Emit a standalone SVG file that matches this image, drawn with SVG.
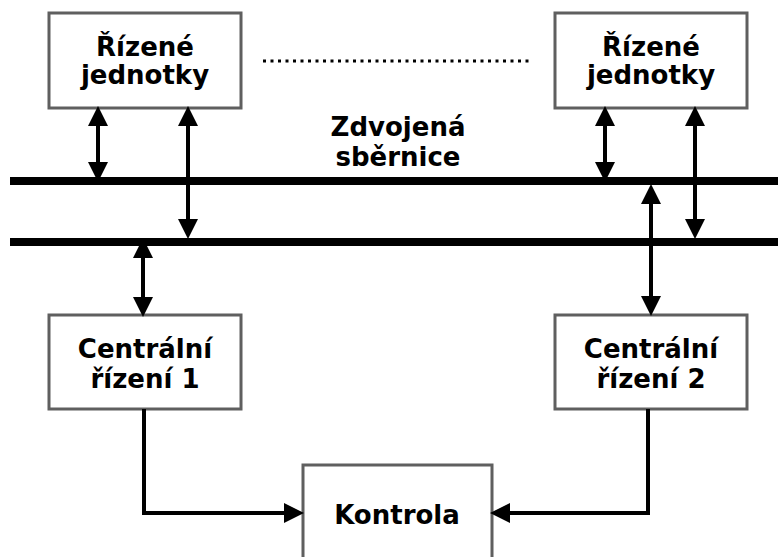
<svg xmlns="http://www.w3.org/2000/svg" width="778" height="557" viewBox="0 0 778 557">
<style>
.box{fill:#fff;stroke:#5f5f5f;stroke-width:3}
.t{font-family:"DejaVu Sans","Verdana",sans-serif;font-weight:bold;font-size:26px;fill:#000;text-anchor:middle}
.bus{stroke:#000;stroke-width:8}
.ln{stroke:#000;stroke-width:4;fill:none}
</style>
<defs>
<marker id="ah" markerUnits="userSpaceOnUse" markerWidth="20" markerHeight="20" viewBox="0 0 20 20" refX="1" refY="10" orient="auto-start-reverse">
<path d="M0,0 L20,10 L0,20 z" fill="#000"/>
</marker>
</defs>
<rect width="778" height="557" fill="#fff"/>
<g id="bus">
<line class="bus" x1="10" y1="181" x2="778" y2="181"/>
<line class="bus" x1="10" y1="242" x2="778" y2="242"/>
<text class="t" x="398" y="136">Zdvojená</text>
<text class="t" x="398" y="166">sběrnice</text>
</g>
<g id="ru1">
<rect class="box" x="49" y="13" width="192" height="95"/>
<text class="t" x="145" y="56">Řízené</text>
<text class="t" x="145" y="84">jednotky</text>
</g>
<g id="ru2">
<rect class="box" x="555" y="13" width="192" height="95"/>
<text class="t" x="651" y="56">Řízené</text>
<text class="t" x="651" y="84">jednotky</text>
</g>
<g id="dots">
<line x1="263" y1="61" x2="533" y2="61" stroke="#000" stroke-width="3" stroke-dasharray="3 4.5"/>
</g>
<g id="cr1">
<rect class="box" x="49" y="315" width="192" height="94"/>
<text class="t" x="145" y="358">Centrální</text>
<text class="t" x="145" y="388">řízení 1</text>
</g>
<g id="cr2">
<rect class="box" x="555" y="315" width="192" height="94"/>
<text class="t" x="651" y="358">Centrální</text>
<text class="t" x="651" y="388">řízení 2</text>
</g>
<g id="kontrola">
<rect class="box" x="303" y="465" width="189" height="130"/>
<text class="t" x="397" y="524">Kontrola</text>
</g>
<g id="connectors">
<line class="ln" x1="98" y1="125" x2="98" y2="163" marker-start="url(#ah)" marker-end="url(#ah)"/>
<line class="ln" x1="188" y1="125" x2="188" y2="220" marker-start="url(#ah)" marker-end="url(#ah)"/>
<line class="ln" x1="605" y1="125" x2="605" y2="163" marker-start="url(#ah)" marker-end="url(#ah)"/>
<line class="ln" x1="695" y1="125" x2="695" y2="220" marker-start="url(#ah)" marker-end="url(#ah)"/>
<line class="ln" x1="143" y1="257" x2="143" y2="298" marker-start="url(#ah)" marker-end="url(#ah)"/>
<line class="ln" x1="651" y1="203" x2="651" y2="297" marker-start="url(#ah)" marker-end="url(#ah)"/>
<path class="ln" d="M144,409 V513 H285" marker-end="url(#ah)"/>
<path class="ln" d="M648,409 V513 H509" marker-end="url(#ah)"/>
</g>
</svg>
